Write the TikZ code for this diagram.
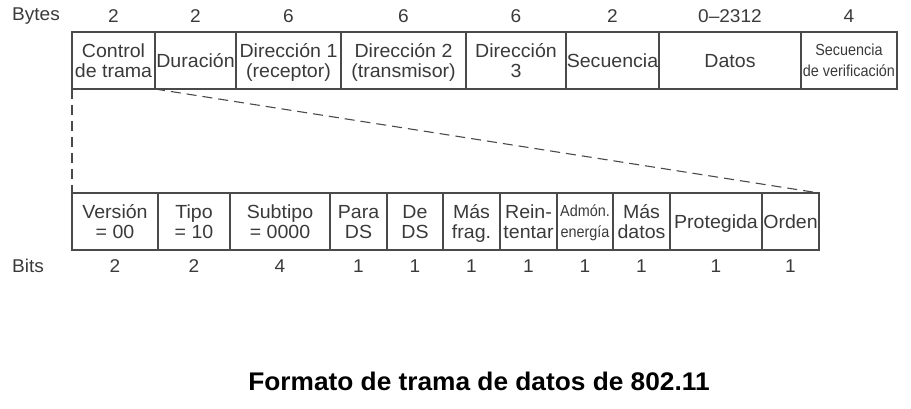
\documentclass[tikz,border=0pt]{standalone}
\usepackage{fontspec}
\setmainfont{Liberation Sans}[FakeStretch=1.03]
\newfontfamily\condensedfont{Liberation Sans}[FakeStretch=0.9]
\usetikzlibrary{positioning}
\definecolor{inkgray}{HTML}{3A3A3A}
\definecolor{rulegray}{HTML}{4A4A4A}

\newcommand\fieldstrut{\rule[-5pt]{0pt}{23.5pt}}
\newcommand\smallstrut{\rule[-5pt]{0pt}{21.5pt}}
\newcommand\twolines[2]{\fieldstrut#1\\\fieldstrut#2}
\newcommand\twosmall[2]{\smallstrut#1\\\smallstrut#2}
\newcommand\fieldfont{\fontsize{19}{20.5}\selectfont\lineskiplimit -100pt\relax}
\newcommand\smallfont{\condensedfont\fontsize{16}{21}\selectfont\lineskiplimit -100pt\relax}

\tikzset{
  field/.style={draw=rulegray, line width=1.1pt, anchor=north west, inner sep=0pt, outer sep=0pt,
    align=center, text=inkgray, font=\fieldfont, minimum height=57},
  smallfield/.style={field, font=\smallfont},
  num/.style={text=inkgray, inner sep=0pt, font=\fontsize{18.5}{20}\selectfont},
  zoomline/.style={draw=rulegray, line width=1.1pt, dash pattern=on 10pt off 6pt},
}

\begin{document}
\begin{tikzpicture}[x=1pt,y=-1pt]
\useasboundingbox (0,0) rectangle (911,408);

% rows of labels
\coordinate (bytesrow) at (0,16);
\coordinate (bitsrow) at (0,266);
\node[num, anchor=west] (bytes) at (12,16) {Bytes};
\node[num, anchor=west] (bits) at (12,266) {Bits};

% frame fields
\node[field, minimum width=83] (ctrl) at (72,32) {\twolines{Control}{de trama}};
\node[field, minimum width=81] (dur) at (155,32) {\fieldstrut Duración};
\node[field, minimum width=105] (dir1) at (236,32) {\twolines{Dirección 1}{(receptor)}};
\node[field, minimum width=125] (dir2) at (341,32) {\twolines{Dirección 2}{(transmisor)}};
\node[field, minimum width=100] (dir3) at (466,32) {\twolines{Dirección}{3}};
\node[field, minimum width=93] (sec) at (566,32) {\fieldstrut Secuencia};
\node[field, minimum width=142] (datos) at (659,32) {\fieldstrut Datos};
\node[smallfield, minimum width=96] (fcs) at (801,32) {\twosmall{Secuencia}{de verificación}};

\node[num] (bctrl) at (ctrl.north |- bytesrow) {2};
\node[num] (bdur) at (dur.north |- bytesrow) {2};
\node[num] (bdir1) at (dir1.north |- bytesrow) {6};
\node[num] (bdir2) at (dir2.north |- bytesrow) {6};
\node[num] (bdir3) at (dir3.north |- bytesrow) {6};
\node[num] (bsec) at (sec.north |- bytesrow) {2};
\node[num] (bdatos) at (datos.north |- bytesrow) {0--2312};
\node[num] (bfcs) at (fcs.north |- bytesrow) {4};

% frame control subfields
\node[field, minimum width=86] (ver) at (72,193) {\twolines{Versión}{= 00}};
\node[field, minimum width=72] (tipo) at (158,193) {\twolines{Tipo}{= 10}};
\node[field, minimum width=100] (subtipo) at (230,193) {\twolines{Subtipo}{= 0000}};
\node[field, minimum width=57] (parads) at (330,193) {\twolines{Para}{DS}};
\node[field, minimum width=56] (deds) at (387,193) {\twolines{De}{DS}};
\node[field, minimum width=57] (masfrag) at (443,193) {\twolines{Más}{frag.}};
\node[field, minimum width=57] (reint) at (500,193) {\twolines{Rein-}{tentar}};
\node[smallfield, minimum width=56] (admon) at (557,193) {\twosmall{Admón.}{energía}};
\node[field, minimum width=57] (masdatos) at (613,193) {\twolines{Más}{datos}};
\node[field, minimum width=92] (prot) at (670,193) {\fieldstrut Protegida};
\node[field, minimum width=57] (orden) at (762,193) {\fieldstrut Orden};

\foreach \f/\n in {ver/2, tipo/2, subtipo/4, parads/1, deds/1, masfrag/1, reint/1, admon/1, masdatos/1, prot/1, orden/1}
  \node[num] (b\f) at (\f.south |- bitsrow) {\n};

% zoom lines
\draw[zoomline] (ctrl.south west) -- (ver.north west);
\draw[zoomline] (ctrl.south east) -- (orden.north east);

\node[text=black, inner sep=0pt, font=\bfseries\fontsize{25.5}{29}\selectfont] (title) at (479,381) {Formato de trama de datos de 802.11};
\end{tikzpicture}
\end{document}
